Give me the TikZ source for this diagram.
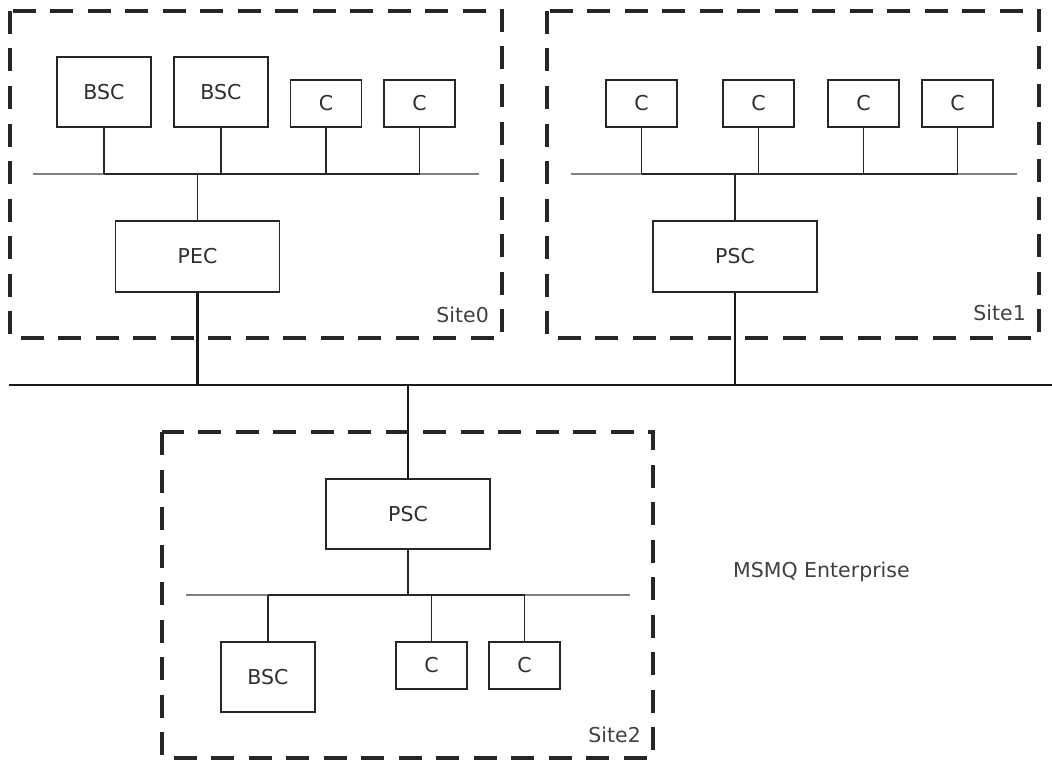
\documentclass[tikz,border=0pt]{standalone}
\usepackage{fontspec}
\setmainfont{DejaVu Sans}
\begin{document}
\begin{tikzpicture}[x=1pt,y=-1pt,
  font=\fontsize{20.5}{24}\selectfont,
  box/.style={draw=black!85, line width=1.9pt, inner sep=0pt, text=black!82, minimum height=70pt},
  wide/.style={box, minimum width=164pt},
  mid/.style={box, minimum width=94pt},
  small/.style={box, minimum width=71pt, minimum height=47pt},
  frame/.style={draw=black!85, line width=3.2pt, dash pattern=on 23pt off 14.5pt},
  lanbus/.style={draw=black!50, line width=2.4pt},
  tap/.style={draw=black!85, line width=1.9pt},
  uplink/.style={draw=black!90, line width=2.8pt},
  backbone/.style={draw=black!90, line width=2.4pt},
  sitelabel/.style={anchor=base east, inner sep=0pt, text=black!75}]
\useasboundingbox (0,0) rectangle (1052,760);

% ---------- site frames ----------
\draw[frame] (10,11) rectangle (502,338);
\draw[frame] (547,11) rectangle (1039,338);
\draw[frame] (162,432) rectangle (653,758);
\node[sitelabel] (lab0) at (489,322) {Site0};
\node[sitelabel] (lab1) at (1026,320) {Site1};
\node[sitelabel] (lab2) at (641,742) {Site2};
\node[anchor=base west, inner sep=0pt, text=black!75] (ent) at (733,577) {MSMQ Enterprise};

% ---------- enterprise backbone ----------
\coordinate (bbL) at (9,385);
\coordinate (bbR) at (1052,385);
\draw[backbone] (bbL) -- (bbR);

% ---------- Site0 ----------
\node[mid]   (s0b1) at (104,92)    {BSC};
\node[mid]   (s0b2) at (221,92)    {BSC};
\node[small] (s0c1) at (326,103.5) {C};
\node[small] (s0c2) at (419.5,103.5) {C};
\node[wide, minimum height=71pt] (pec) at (197.5,256.5) {PEC};
\coordinate (l0L) at (33,174);
\coordinate (l0R) at (479,174);
\draw[lanbus] (l0L) -- (l0R);
\draw[tap] (s0b1.south |- l0L) -- (s0c2.south |- l0L);
\foreach \n in {s0b1,s0b2,s0c1,s0c2}
  \draw[tap] (\n.south) -- (\n.south |- l0L);
\draw[tap] (pec.north) -- (pec.north |- l0L);
\draw[uplink] (pec.south) -- (pec.south |- bbL);

% ---------- Site1 ----------
\node[small] (s1c1) at (641.5,103.5) {C};
\node[small] (s1c2) at (758.5,103.5) {C};
\node[small] (s1c3) at (863.5,103.5) {C};
\node[small] (s1c4) at (957.5,103.5) {C};
\node[wide, minimum height=71pt] (psc1) at (735,256.5) {PSC};
\coordinate (l1L) at (571,174);
\coordinate (l1R) at (1017,174);
\draw[lanbus] (l1L) -- (l1R);
\draw[tap] (s1c1.south |- l1L) -- (s1c4.south |- l1L);
\foreach \n in {s1c1,s1c2,s1c3,s1c4}
  \draw[tap] (\n.south) -- (\n.south |- l1L);
\draw[tap] (psc1.north) -- (psc1.north |- l1L);
\draw[uplink] (psc1.south) -- (psc1.south |- bbL);

% ---------- Site2 ----------
\node[wide] (psc2) at (408,514) {PSC};
\node[mid]   (s2b1) at (268,677)   {BSC};
\node[small] (s2c1) at (431.5,665.5) {C};
\node[small] (s2c2) at (524.5,665.5) {C};
\coordinate (l2L) at (186,595);
\coordinate (l2R) at (630,595);
\draw[lanbus] (l2L) -- (l2R);
\draw[tap] (s2b1.north |- l2L) -- (s2c2.north |- l2L);
\foreach \n in {s2b1,s2c1,s2c2}
  \draw[tap] (\n.north) -- (\n.north |- l2L);
\draw[tap] (psc2.south) -- (psc2.south |- l2L);
\draw[uplink] (psc2.north) -- (psc2.north |- bbL);
\end{tikzpicture}
\end{document}
